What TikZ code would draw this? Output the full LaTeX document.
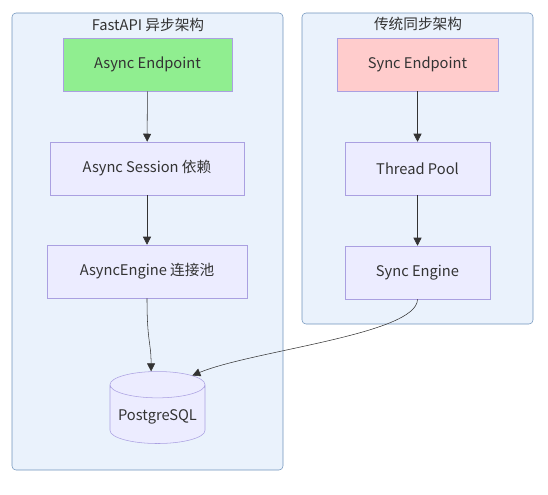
\documentclass[tikz,border=0pt]{standalone}
\usepackage{fontspec}
\setmainfont{Noto Sans CJK SC}
\usetikzlibrary{shapes.geometric,arrows.meta}
\definecolor{clusterbg}{RGB}{234,242,252}
\definecolor{clusterline}{RGB}{112,148,188}
\definecolor{nodebg}{RGB}{236,236,255}
\definecolor{nodeline}{RGB}{170,160,225}
\definecolor{asyncbg}{RGB}{144,238,144}
\definecolor{syncbg}{RGB}{255,204,204}
\definecolor{ink}{RGB}{51,51,51}
\begin{document}
\begin{tikzpicture}[x=0.75pt,y=-0.75pt]
		\tikzstyle{all} = [draw, thin, text=ink, font=\fontsize{11}{13}\selectfont]
		\tikzstyle{cluster} = [rectangle, draw=clusterline, fill=clusterbg, rounded corners=3pt]
		\tikzstyle{block} = [rectangle, all, draw=nodeline, fill=nodebg, minimum height=39.75pt]
		\tikzstyle{db} = [cylinder, shape border rotate=90, aspect=0.3, all, draw=nodeline, fill=nodebg, minimum width=71.25pt, minimum height=54pt]
		\tikzstyle{title} = [text=ink, font=\fontsize{11}{13}\selectfont]
		\tikzstyle{flow} = [draw=ink, -{Triangle[length=6pt,width=6pt]}]
		\useasboundingbox (0,0) rectangle (548,494);
		% clusters
		\node[cluster, minimum width=203.25pt, minimum height=342.75pt] (fastapi) at (147.5,241.5) {};
		\node[cluster, minimum width=173.25pt, minimum height=233.25pt] (legacy) at (417.5,168.5) {};
		\node[title] (fastapititle) at (148,25) {FastAPI 异步架构};
		\node[title] (legacytitle) at (418,24) {传统同步架构};
		% async side
		\node[block, fill=asyncbg, minimum width=126.75pt] (asyncep) at (147.5,64.5) {Async Endpoint};
		\node[block, minimum width=145.5pt] (asyncsess) at (147,168.5) {Async Session 依赖};
		\node[block, minimum width=150pt] (asynceng) at (147,271.5) {AsyncEngine 连接池};
		\node[db] (pg) at (157.5,417) {PostgreSQL};
		% sync side
		\node[block, fill=syncbg, minimum width=120.75pt] (syncep) at (417.5,64.5) {Sync Endpoint};
		\node[block, minimum width=108.75pt] (pool) at (417.5,168.5) {Thread Pool};
		\node[block, minimum width=108.75pt] (synceng) at (417.5,272.5) {Sync Engine};
		% connectors
		\draw[flow] (asynceng.south) .. controls +(0,45) and +(0,-30) .. (pg.98);
		\draw[flow] (asyncep) -- (asyncsess);
		\draw[flow] (asyncsess) -- (asynceng);
		\draw[flow] (syncep) -- (pool);
		\draw[flow] (pool) -- (synceng);
		\draw[flow] (synceng.south) .. controls +(0,35) and +(60,-25) .. (pg.50);
\end{tikzpicture}
\end{document}
